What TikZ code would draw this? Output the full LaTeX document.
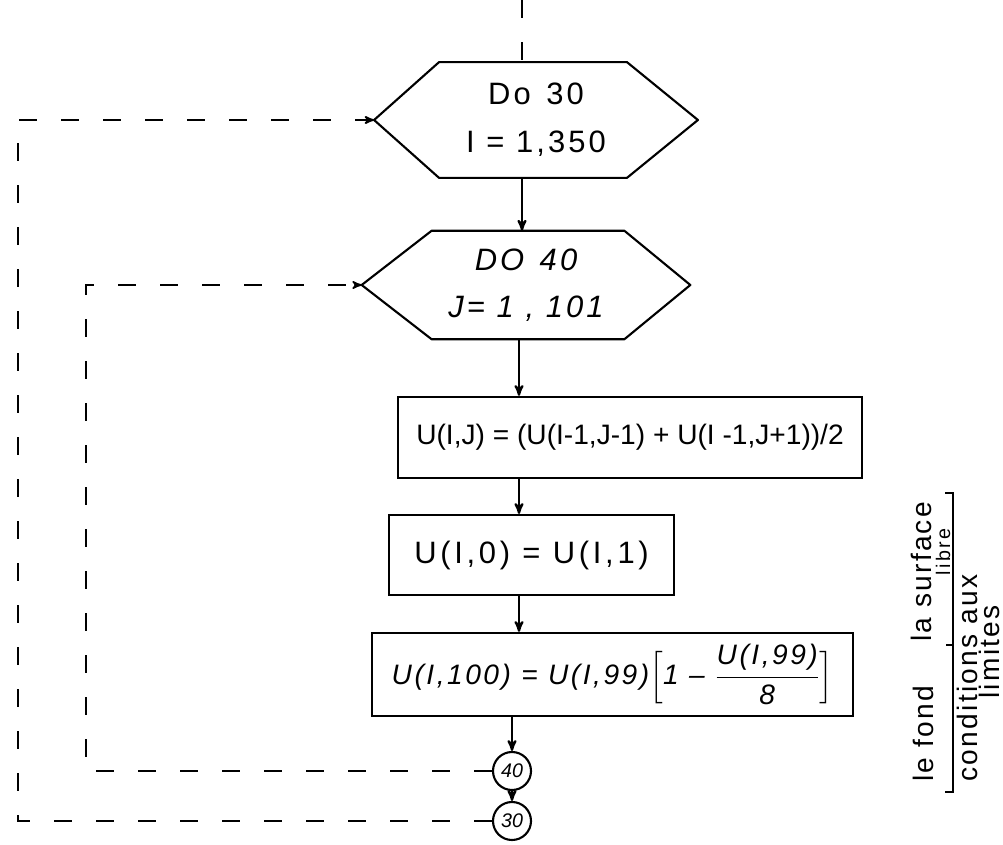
\documentclass[tikz,border=0pt]{standalone}
\usepackage{amsmath}
\usepackage{fontspec}
\setmainfont{Liberation Sans}
\usetikzlibrary{arrows,calc}
\tikzset{>=stealth'}
\newcommand{\hexframe}[3]{%
  \draw[shape line] (#1.west) -- ($(#1.north west)+(#2,0)$) -- ($(#1.north east)-(#3,0)$)
    -- (#1.east) -- ($(#1.south east)-(#3,0)$) -- ($(#1.south west)+(#2,0)$) -- cycle;
}
\newcommand{\wide}[1]{\addfontfeatures{LetterSpace=#1}}

\begin{document}
\begin{tikzpicture}[x=0.025cm,y=-0.025cm,
  shape line/.style={line width=1.5pt,line join=round},
  hexnode/.style={rectangle,inner sep=0pt,align=center,font=\fontsize{22}{24}\selectfont\wide{10}},
  instr/.style={draw,line width=1.5pt,rectangle,inner sep=0pt,font=\fontsize{20}{24}\selectfont},
  tag/.style={draw,circle,line width=1.5pt,minimum size=0.95cm,inner sep=0pt,font=\itshape\fontsize{14}{16}\selectfont},
  flow/.style={->,line width=1.6pt},
  loopline/.style={line width=1.3pt,dash pattern=on 0.45cm off 0.6cm},
  note/.style={rotate=90,inner sep=0pt,font=\fontsize{20}{22}\selectfont\wide{8}}]
\useasboundingbox (0,0) rectangle (1003,845);

% loop headers
\node[hexnode,minimum width=8.08cm,minimum height=2.88cm] (d30) at (536,120) {Do\enspace 30\\[10pt] I = 1,350};
\hexframe{d30}{65}{71}
\node[hexnode,font=\itshape\fontsize{22}{24}\selectfont\wide{10},minimum width=8.2cm,minimum height=2.7cm] (d40) at (526,285) {DO\enspace 40\\[9pt] J= 1 , 101};
\hexframe{d40}{70}{66}

% loop body
\node[instr,minimum width=11.6cm,minimum height=2.03cm] (calc) at (630,437.5) {U(I,J) = (U(I-1,J-1) + U(I -1,J+1))/2};
\node[instr,font=\fontsize{22}{24}\selectfont\wide{12},minimum width=7.13cm,minimum height=2cm] (bot) at (531.5,555) {U(I,0) = U(I,1)};
\node[instr,font=\itshape\fontsize{20}{24}\selectfont\wide{9},minimum width=12.03cm,minimum height=2.08cm] (surf) at (612.5,674.5)
  {U(I,100) = U(I,99)$\Bigl[$1 -- $\dfrac{\text{U(I,99)}}{\text{8}}\Bigr]$};

% loop ends
\node[tag] (c40) at (512,771) {40};
\node[tag] (c30) at (512,821) {30};

\coordinate (entry) at (522,0);
\coordinate (spine) at (519,0);
\coordinate (inner) at (86,285);
\coordinate (outer) at (18,120);

\draw[loopline] (entry) -- (entry |- d30.north);
\draw[flow] (d30.south -| entry) -- (d40.north -| entry);
\draw[flow] (d40.south -| spine) -- (calc.north -| spine);
\draw[flow] (calc.south -| spine) -- (bot.north -| spine);
\draw[flow] (bot.south -| spine) -- (surf.north -| spine);
\draw[flow] (surf.south -| c40) -- (c40.north);
\draw[flow] (c40.south) -- (c30.north);

\draw[loopline,->] (c40.west) -| (inner) -- (d40.west);
\draw[loopline,->] (c30.west) -| (outer) -- (d30.west);

% boundary conditions
\draw[line width=1.3pt] (945,493) -- (953,493) -- (953,792) -- (945,792);
\draw[line width=1.3pt] (953,645) -- (946,645);
\node[note] (fond) at (923,734) {le fond};
\node[note] (lasurf) at (921,572) {la surface};
\node[note,font=\fontsize{14}{16}\selectfont\wide{12}] (libre) at (943,552) {libre};
\node[note] (cond) at (967,678) {conditions aux};
\node[note] (lim) at (989,652) {limites};
\end{tikzpicture}
\end{document}
